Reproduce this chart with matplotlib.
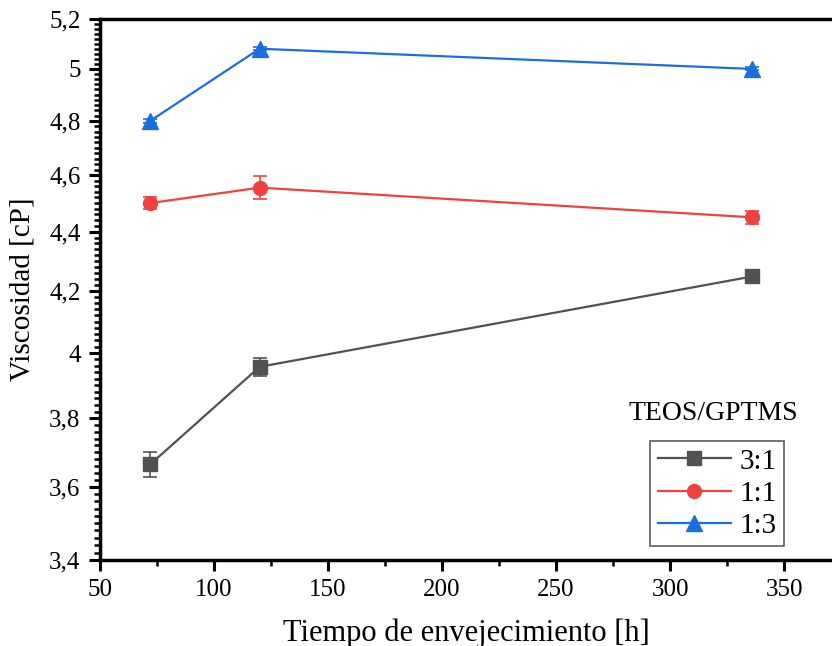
import numpy as np
import matplotlib
matplotlib.use('Agg')
import matplotlib.pyplot as plt
from matplotlib.ticker import FixedLocator, FixedFormatter, NullFormatter

# Datos
tiempo = [72, 120, 336]
visc_31 = [3.665, 3.957, 4.248]
err_31 = [0.036, 0.027, 0.008]
visc_11 = [4.50, 4.555, 4.45]
err_11 = [0.02, 0.04, 0.022]
visc_13 = [4.80, 5.08, 5.00]
err_13 = [0.006, 0.006, 0.006]

series = [
    ('3:1', visc_31, err_31, '#515151', 's', 10),
    ('1:1', visc_11, err_11, '#F14040', 'o', 10),
    ('1:3', visc_13, err_13, '#1A6FDF', '^', 12),
]

y_ticks = [3.4, 3.6, 3.8, 4.0, 4.2, 4.4, 4.6, 4.8, 5.0, 5.2]
y_labels = ['3,4', '3,6', '3,8', '4', '4,2', '4,4', '4,6', '4,8', '5', '5,2']
x_ticks = [50, 100, 150, 200, 250, 300, 350]

plt.rcParams['font.family'] = ['Liberation Serif', 'DejaVu Serif']

fig = plt.figure(figsize=(8.32, 6.46), dpi=100)
ax = fig.add_axes([100 / 832, 1 - 560 / 646, 1 - 100 / 832, (560 - 19) / 646])

handles = []
for nombre, vals, errs, color, marker, ms in series:
    ax.errorbar(tiempo, vals, yerr=errs, fmt='none', ecolor=color,
                elinewidth=1.2, capsize=5, capthick=1.2, zorder=2)
    h, = ax.plot(tiempo, vals, color=color, marker=marker, markersize=ms,
                 linewidth=1.6, label=nombre, zorder=3)
    handles.append(h)

ax.set_yscale('log')
ax.set_ylim(3.4, 5.2)
ax.set_xlim(50, 371)

ax.yaxis.set_major_locator(FixedLocator(y_ticks))
ax.yaxis.set_major_formatter(FixedFormatter(y_labels))
ax.yaxis.set_minor_locator(FixedLocator(np.arange(3.4, 5.2001, 0.02)))
ax.yaxis.set_minor_formatter(NullFormatter())
ax.xaxis.set_major_locator(FixedLocator(x_ticks))
ax.xaxis.set_minor_locator(FixedLocator([75, 125, 175, 225, 275, 325, 375]))

ax.tick_params(which='major', direction='out', length=8, width=2.2,
               labelsize=18, pad=6)
ax.tick_params(which='minor', direction='out', length=4.5, width=1.8)
ax.tick_params(top=False, right=False, which='both')

for lado in ['left', 'bottom', 'top']:
    ax.spines[lado].set_linewidth(2.5)
ax.spines['right'].set_visible(False)

ax.set_xlabel('Tiempo de envejecimiento [h]', fontsize=22, labelpad=12)
ax.set_ylabel('Viscosidad [cP]', fontsize=21, labelpad=10)

leg = ax.legend(handles=handles, loc='lower left', bbox_to_anchor=(0.752, 0.025),
                fontsize=21, frameon=True, fancybox=False, edgecolor='#333333',
                handlelength=2.5, handletextpad=0.3, borderpad=0.25,
                labelspacing=0.2, borderaxespad=0)
leg.get_frame().set_linewidth(1.2)
ax.text(0.8375, 0.27, 'TEOS/GPTMS', transform=ax.transAxes, fontsize=20,
        ha='center', va='center')

fig.savefig('out.png', dpi=100)
